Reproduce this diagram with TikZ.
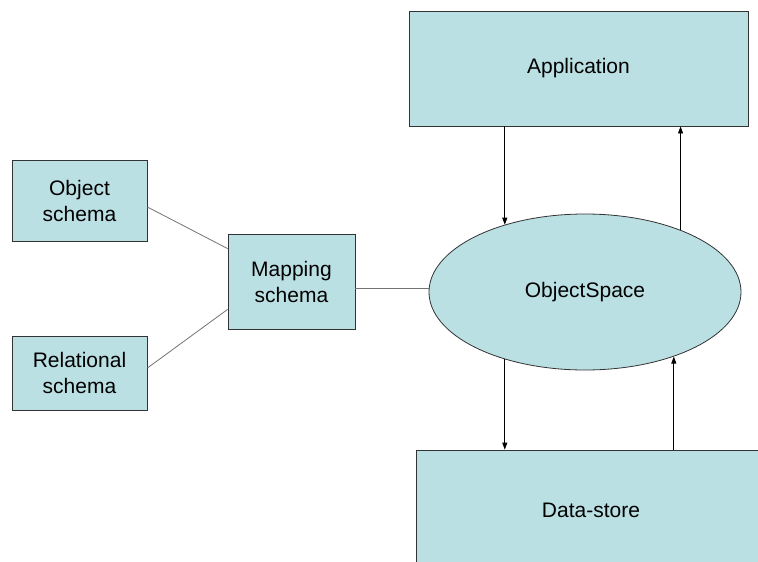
\documentclass[tikz,border=0pt]{standalone}
\usepackage{fontspec}
\setmainfont{Liberation Sans}
\usetikzlibrary{shapes.geometric,arrows.meta}
\definecolor{boxfill}{RGB}{187,224,227}
\tikzset{every node/.style={font=\fontsize{21}{26}\selectfont, align=center, inner sep=0pt},
  box/.style={draw=black!80, fill=boxfill, line width=0.8pt},
  link/.style={draw=black!55, line width=0.8pt},
  flow/.style={draw=black, line width=0.8pt, -{Triangle[length=7pt,width=5pt]}}}

\begin{document}
\begin{tikzpicture}[x=1pt,y=-1pt]
  \useasboundingbox (0,0) rectangle (758,562);

  \node[box, minimum width=339pt, minimum height=115pt] (app) at (578.5, 68.5) {Application};
  \node[box, minimum width=135pt, minimum height=81pt] (obj) at (79.5, 200.5) {Object\\schema};
  \node[box, minimum width=135pt, minimum height=74pt] (rel) at (79.5, 373) {Relational\\schema};
  \node[box, minimum width=127pt, minimum height=95pt] (map) at (291.5, 281.5) {Mapping\\schema};
  \node[box, ellipse, minimum width=312pt, minimum height=156pt] (space) at (585, 292) {ObjectSpace};
  \node[box, minimum width=350pt, minimum height=120pt] (store) at (591, 510) {Data-store};

  % schema links
  \draw[link] ([yshift=-6.5pt]obj.east) -- ([yshift=-15pt]map.north west);
  \draw[link] ([yshift=5pt]rel.east) -- ([yshift=20pt]map.south west);
  \draw[link] ([yshift=-6.5pt]map.east) -- ([yshift=-6.5pt]map.east -| space.west);

  % application <-> objectspace <-> data-store
  \draw[flow] (space.140 |- app.south) -- (space.140);
  \draw[flow] (space.33) -- (space.33 |- app.south);
  \draw[flow] (space.220) -- (space.220 |- store.north);
  \draw[flow] (space.324 |- store.north) -- (space.324);
\end{tikzpicture}
\end{document}
